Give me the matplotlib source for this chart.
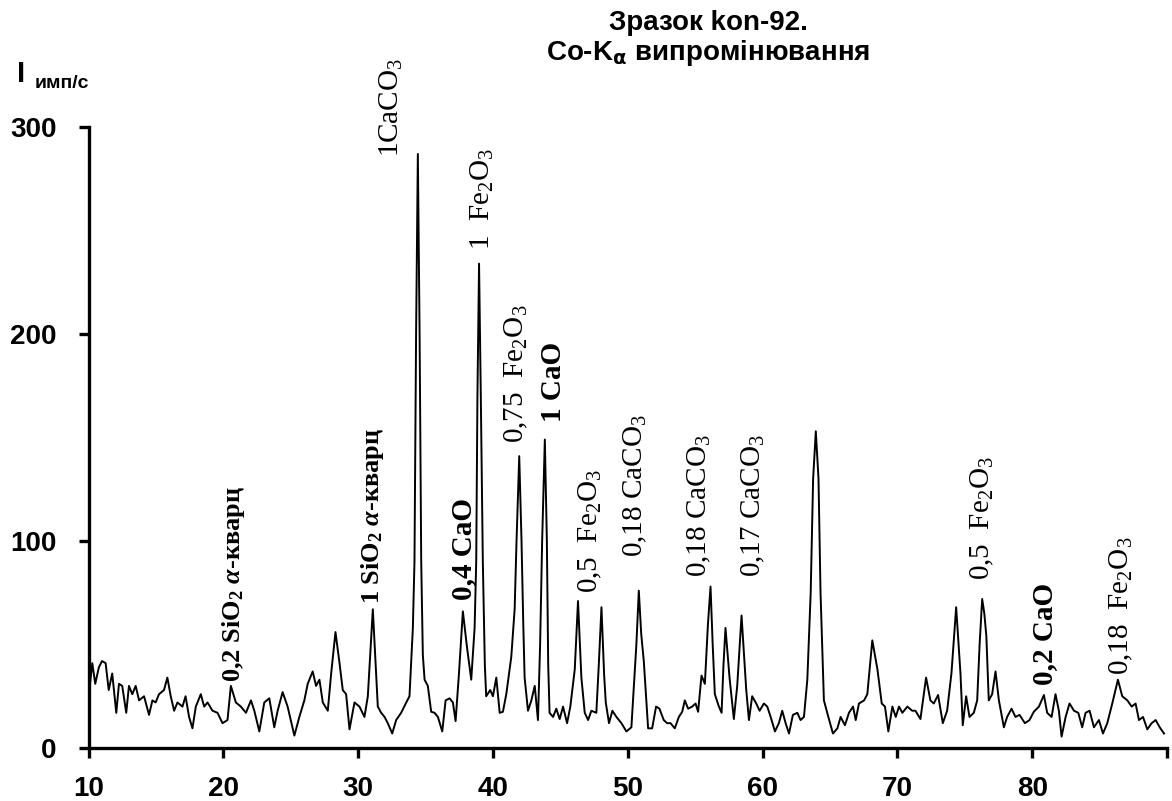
import matplotlib
matplotlib.use("Agg")
import matplotlib.pyplot as plt

plt.rcParams['mathtext.fontset'] = 'custom'
plt.rcParams['mathtext.rm'] = 'Liberation Serif'
plt.rcParams['mathtext.it'] = 'Liberation Serif:italic'
plt.rcParams['mathtext.bf'] = 'Liberation Serif:bold'
plt.rcParams['mathtext.bfit'] = 'Liberation Serif:italic:bold'

# ---------------- data ----------------
two_theta = [
    10.03, 10.28, 10.50, 10.77, 11.00, 11.27, 11.50, 11.76, 12.06, 12.26,
    12.50, 12.80, 13.00, 13.25, 13.50, 13.75, 14.12, 14.49, 14.74, 14.98,
    15.23, 15.60, 15.85, 16.10, 16.35, 16.60, 16.97, 17.20, 17.46, 17.71,
    17.96, 18.33, 18.58, 18.83, 19.20, 19.57, 19.94, 20.31, 20.56, 20.93,
    21.30, 21.68, 22.05, 22.30, 22.67, 23.04, 23.41, 23.78, 24.03, 24.40,
    24.77, 25.27, 25.64, 26.01, 26.26, 26.63, 26.88, 27.13, 27.38, 27.75,
    28.00, 28.32, 28.62, 28.86, 29.11, 29.36, 29.73, 30.10, 30.47, 30.72,
    31.09, 31.46, 31.71, 31.96, 32.20, 32.53, 32.82, 33.19, 33.57, 33.81,
    34.06, 34.18, 34.30, 34.43, 34.56, 34.68, 34.80, 34.93, 35.17, 35.42,
    35.67, 35.92, 36.24, 36.49, 36.78, 37.03, 37.23, 37.48, 37.77, 38.07,
    38.39, 38.64, 38.76, 38.85, 38.97, 39.10, 39.25, 39.40, 39.50, 39.80,
    40.00, 40.25, 40.50, 40.74, 40.99, 41.36, 41.61, 41.75, 41.95, 42.12,
    42.25, 42.35, 42.60, 42.85, 43.10, 43.34, 43.50, 43.65, 43.85, 44.00,
    44.10, 44.20, 44.46, 44.70, 44.95, 45.20, 45.50, 45.74, 46.07, 46.31,
    46.56, 46.81, 47.06, 47.30, 47.67, 47.85, 48.05, 48.25, 48.37, 48.61,
    48.86, 49.16, 49.53, 49.90, 50.27, 50.64, 50.82, 51.00, 51.19, 51.51,
    51.81, 52.10, 52.35, 52.67, 52.92, 53.17, 53.49, 53.79, 54.04, 54.23,
    54.48, 54.78, 55.03, 55.22, 55.47, 55.72, 55.95, 56.14, 56.30, 56.46,
    56.76, 56.96, 57.10, 57.25, 57.55, 57.87, 58.12, 58.44, 58.79, 58.99,
    59.23, 59.53, 59.78, 60.10, 60.35, 60.60, 60.92, 61.21, 61.46, 61.71,
    61.96, 62.25, 62.58, 62.82, 63.07, 63.32, 63.57, 63.75, 63.95, 64.15,
    64.30, 64.55, 64.88, 65.22, 65.55, 65.79, 66.11, 66.41, 66.71, 66.91,
    67.15, 67.53, 67.77, 68.14, 68.52, 68.84, 69.08, 69.33, 69.63, 69.88,
    70.12, 70.37, 70.74, 71.10, 71.34, 71.71, 72.13, 72.45, 72.70, 73.02,
    73.37, 73.69, 74.01, 74.36, 74.68, 74.85, 75.10, 75.35, 75.67, 75.92,
    76.10, 76.29, 76.45, 76.60, 76.78, 77.03, 77.28, 77.53, 77.90, 78.14,
    78.47, 78.76, 79.06, 79.46, 79.80, 80.12, 80.50, 80.87, 81.11, 81.44,
    81.73, 81.98, 82.18, 82.48, 82.77, 83.10, 83.42, 83.71, 83.96, 84.26,
    84.58, 84.95, 85.25, 85.57, 85.94, 86.36, 86.68, 87.06, 87.38, 87.67,
    87.92, 88.22, 88.54, 88.86, 89.16, 89.46, 89.78,
]
intensity = [
    26, 41, 31, 39, 42, 41, 28, 36, 17, 31,
    30, 17, 30, 26, 30, 23, 25, 16, 23, 22,
    26, 28, 34, 25, 18, 22, 20, 25, 15, 9.5,
    20, 26, 20, 22, 18, 17, 12, 13.5, 30, 22,
    20, 17, 23, 18, 8, 22, 24, 10, 18, 27,
    20, 6, 15, 23, 31, 37, 30, 33, 22, 18,
    36, 56, 41, 28, 26, 9, 22, 20, 15, 25,
    67, 20, 17, 15, 12, 7, 13.5, 17, 22, 25,
    58, 90, 200, 287, 200, 90, 45, 33, 30, 17.5,
    17, 15, 8, 23, 24, 22, 13, 36, 66, 49,
    33, 58, 90, 170, 234, 170, 90, 40, 25, 28,
    25, 34, 17, 17.5, 26, 44, 67, 100, 141, 100,
    60, 34, 18, 23, 30, 13.5, 50, 100, 149, 100,
    40, 17, 15, 19, 14, 20, 12, 20, 38, 71,
    34, 17, 13.5, 18, 17, 40, 68, 35, 22, 12,
    18, 15, 12, 8, 10, 50, 76, 55, 42, 9.5,
    9.5, 20, 19, 13.5, 12, 12, 9.5, 15, 17.5, 23,
    19, 20, 21.5, 17.5, 35, 31, 60, 78, 50, 26,
    20, 17, 40, 58, 34, 14, 30, 64, 28, 13.5,
    25, 21.5, 18, 21.5, 20, 15, 8, 12, 18, 12,
    7, 16, 17, 13.5, 15, 33, 75, 130, 153, 130,
    75, 23, 15, 7, 9.5, 15, 11, 17, 20, 13.5,
    21.5, 23, 26, 52, 38, 21.5, 20, 8, 20, 15,
    20, 17, 20, 18, 18, 14, 34, 23, 21.5, 25.6,
    12, 18, 36, 68, 36, 11, 25, 15, 17, 23,
    50, 72, 65, 54, 23, 26, 37, 23, 10, 15,
    19, 15, 16, 12, 13.5, 17.5, 20, 25.6, 17, 15,
    26, 18, 5.5, 15, 21.5, 18, 17, 10, 17, 18,
    10, 13.5, 7, 12, 21.5, 33, 25, 23, 20, 21.5,
    13.5, 15, 9, 12, 13.5, 10, 7,
]
assert len(two_theta) == len(intensity)

x_ticks = [10, 20, 30, 40, 50, 60, 70, 80, 90]
x_tick_labels = ['10', '20', '30', '40', '50', '60', '70', '80', '']
y_ticks = [0, 100, 200, 300]
y_tick_labels = ['0', '100', '200', '300']

# peak labels: text, x, y (bottom of rotated label), bold
label_texts = [
    r'0,2 SiO$_\mathbf{2}$ $\mathbfit{\alpha}$-кварц',
    r'1 SiO$_\mathbf{2}$ $\mathbfit{\alpha}$-кварц',
    r'1CaCO$_3$',
    r'0,4 CaO',
    r'1  Fe$_2$O$_3$',
    r'0,75  Fe$_2$O$_3$',
    r'1 CaO',
    r'0,5  Fe$_2$O$_3$',
    r'0,18 CaCO$_3$',
    r'0,18 CaCO$_3$',
    r'0,17 CaCO$_3$',
    r'0,5  Fe$_2$O$_3$',
    r'0,2 CaO',
    r'0,18  Fe$_2$O$_3$',
]
label_x = [20.78, 31.1, 32.45, 37.8, 39.2, 41.75, 44.5, 47.2, 50.6, 55.35, 59.3, 76.3, 80.9, 86.65]
label_y = [31.9, 69.6, 285.5, 71.5, 240.6, 147.3, 157.5, 74.9, 92.3, 82.6, 82.6, 81.2, 30.4, 35.3]
label_bold = [True, True, False, True, False, False, True, False, False, False, False, False, True, False]
label_size = [19, 19, 21, 21, 21, 21, 21, 21, 21, 21, 21, 21, 21, 21]

# ---------------- figure ----------------
W, H = 1172, 801
fig = plt.figure(figsize=(W / 100, H / 100), dpi=100)
ax = fig.add_axes([88.5 / W, 53 / H, (1167 - 88.5) / W, (748 - 127) / H])

ax.plot(two_theta, intensity, color='black', lw=1.4)
ax.set_xlim(10, 90)
ax.set_ylim(0, 300)

for s in ['top', 'right']:
    ax.spines[s].set_visible(False)
for s in ['left', 'bottom']:
    ax.spines[s].set_linewidth(2.4)

ax.set_xticks(x_ticks)
ax.set_xticklabels(x_tick_labels)
ax.set_yticks(y_ticks)
ax.set_yticklabels(y_tick_labels)
ax.tick_params(direction='out', length=7, width=2.4, pad=13)
ax.tick_params(axis='y', pad=16)
for lab in ax.get_xticklabels() + ax.get_yticklabels():
    lab.set_fontfamily('Liberation Sans')
    lab.set_fontweight('bold')
    lab.set_fontsize(20)

for t, x, y, b, fs in zip(label_texts, label_x, label_y, label_bold, label_size):
    ax.text(x, y, t, rotation=90, ha='center', va='bottom',
            family='Liberation Serif', fontweight='bold' if b else 'normal',
            fontsize=fs)

# axis label "I имп/с"
fig.text(17 / W, 1 - 82 / H, 'I', family='Liberation Sans', fontweight='bold',
         fontsize=21, va='baseline', ha='left')
fig.text(35 / W, 1 - 88 / H, 'имп/с', family='Liberation Sans', fontweight='bold',
         fontsize=14, va='baseline', ha='left')

# title
fig.text(708 / W, 1 - 30 / H, 'Зразок kon-92.', family='Liberation Sans',
         fontweight='bold', fontsize=20, ha='center', va='baseline')
fig.text(708 / W, 1 - 60 / H, r'Co-K$_{\mathbf{\alpha}}$ випромінювання',
         family='Liberation Sans', fontweight='bold', fontsize=20,
         ha='center', va='baseline', math_fontfamily='dejavusans')

fig.savefig('out.png', dpi=100)
